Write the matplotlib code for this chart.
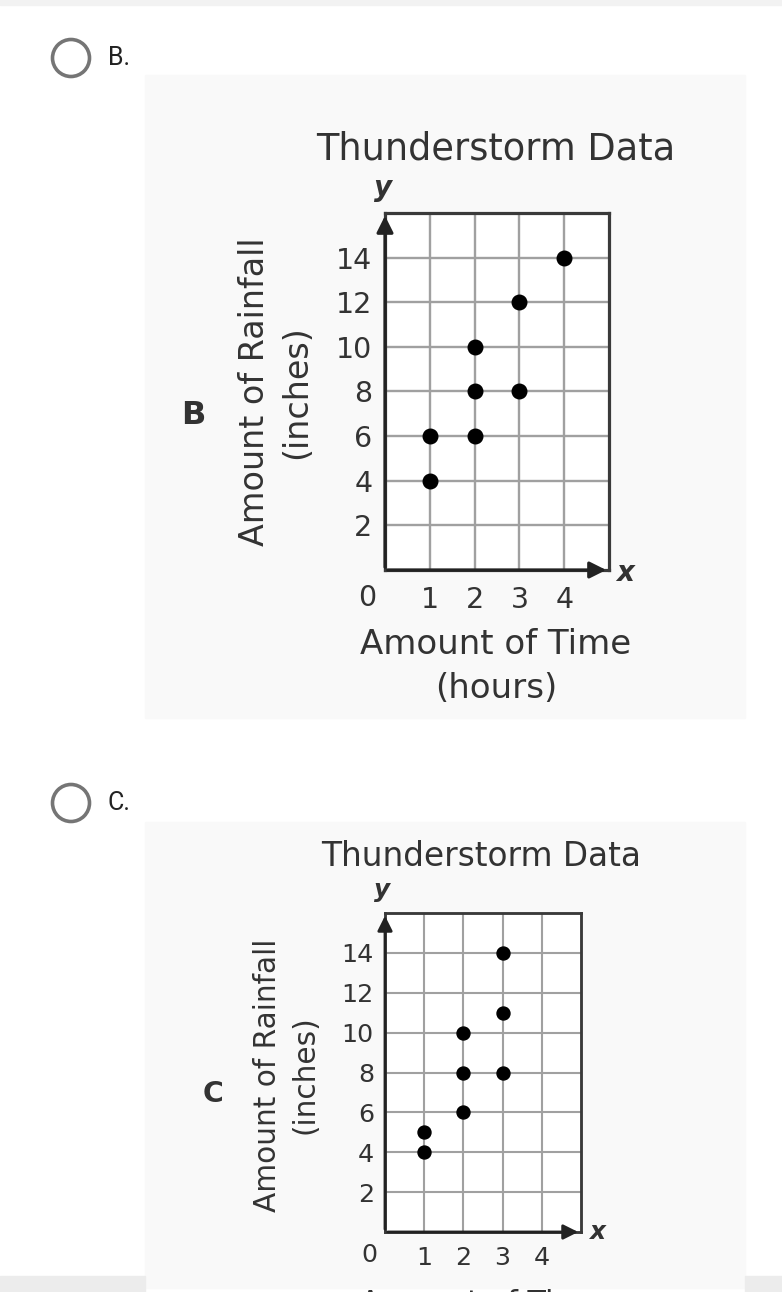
import matplotlib
matplotlib.use("Agg")
import matplotlib.pyplot as plt
from matplotlib.patches import Rectangle, Ellipse

W, H = 782, 1292

# option B data
b_hours = [1, 1, 2, 2, 2, 3, 3, 4]
b_rain = [4, 6, 6, 8, 10, 8, 12, 14]
# option C data
c_hours = [1, 1, 2, 2, 2, 3, 3, 3]
c_rain = [4, 5, 6, 8, 10, 8, 11, 14]

x_ticks = [1, 2, 3, 4]
y_ticks = [2, 4, 6, 8, 10, 12, 14]
title = "Thunderstorm Data"
ylabel = ["Amount of Rainfall", "(inches)"]
xlabel = ["Amount of Time", "(hours)"]
TXT = "#333333"


def fx(x):
    return x / W


def fy(y):
    return 1 - y / H


def add_axes_px(fig, left, top, right, bottom):
    return fig.add_axes([fx(left), fy(bottom), (right - left) / W, (bottom - top) / H])


def draw_chart(fig, box, hours, rain, letter, s, pos):
    left, top, right, bottom = box
    ax = add_axes_px(fig, left, top, right, bottom)
    ax.set_zorder(2)
    ax.set_facecolor("white")
    ax.set_xlim(0, 5)
    ax.set_ylim(0, 16)
    for v in x_ticks:
        ax.axvline(v, color="#a0a0a0", lw=1.7 * s, zorder=1)
    for v in y_ticks:
        ax.axhline(v, color="#a0a0a0", lw=1.7 * s, zorder=1)
    for sp in ax.spines.values():
        sp.set_color("#3a3a3a")
        sp.set_linewidth(2.3 * s)
    ax.set_xticks(x_ticks)
    ax.set_yticks(y_ticks)
    ax.tick_params(length=0, labelsize=20.5 * s, labelcolor=TXT)
    ax.tick_params(axis="x", pad=11.5 * s)
    ax.tick_params(axis="y", pad=9 * s)
    # the origin label sits left of the axis, level with the x tick labels
    ax.annotate("0", xy=(-0.4, 0), xycoords=("data", "axes fraction"),
                xytext=(0, -pos["zero_off"]), textcoords="offset points",
                ha="center", va="center", fontsize=20.5 * s, color=TXT,
                annotation_clip=False)
    # axis arrows
    ax.annotate("", xy=(0, 16), xytext=(0, 0),
                arrowprops=dict(arrowstyle="-|>", color="#222222", lw=2.3 * s,
                                mutation_scale=25 * s), annotation_clip=False)
    ax.annotate("", xy=(5, 0), xytext=(0, 0),
                arrowprops=dict(arrowstyle="-|>", color="#222222", lw=2.3 * s,
                                mutation_scale=25 * s), annotation_clip=False)
    ax.scatter(hours, rain, s=110 * s * s, color="black", zorder=5, clip_on=False)

    # labels placed in pixel space
    fig.text(fx(pos["title"][0]), fy(pos["title"][1]), title, ha="center", va="center",
             fontsize=26.5 * s, color=TXT)
    fig.text(fx(pos["y"][0]), fy(pos["y"][1]), "y", ha="center", va="center",
             fontsize=20 * s, color="#333333", fontweight="bold", style="italic")
    fig.text(fx(pos["x"][0]), fy(pos["x"][1]), "x", ha="center", va="center",
             fontsize=20 * s, color="#333333", fontweight="bold", style="italic")
    yl = pos["ylabel"]
    fig.text(fx(yl[0]), fy(yl[2]), ylabel[0], rotation=90, ha="center", va="center",
             fontsize=24 * s, color=TXT)
    fig.text(fx(yl[1]), fy(yl[2]), ylabel[1], rotation=90, ha="center", va="center",
             fontsize=24 * s, color=TXT)
    fig.text(fx(pos["letter"][0]), fy(pos["letter"][1]), letter, ha="center", va="center",
             fontsize=23 * s, color=TXT, fontweight="bold")
    xl = pos["xlabel"]
    for line, ypx in zip(xlabel, xl[1:]):
        fig.text(fx(xl[0]), fy(ypx), line, ha="center", va="center",
                 fontsize=24.5 * s, color=TXT)
    return ax


fig = plt.figure(figsize=(W / 100, H / 100), dpi=100)
fig.patch.set_facecolor("white")

# page decorations
def add_rect(x0, y0, x1, y1, color, z=-1):
    fig.patches.append(Rectangle((fx(x0), fy(y1)), (x1 - x0) / W, (y1 - y0) / H,
                                 transform=fig.transFigure, color=color, zorder=z))


add_rect(0, 0, W, 5, "#f2f2f2")
add_rect(145, 75, 745, 718, "#f9f9f9")
add_rect(145, 822, 745, 1288, "#f9f9f9")
add_rect(0, 1276, 145, 1292, "#ececec")
add_rect(745, 1276, W, 1292, "#ececec")

for cy, lab in [(58, "B."), (803, "C.")]:
    fig.patches.append(Ellipse((fx(71), fy(cy)), 37 / W, 37 / H, transform=fig.transFigure,
                               fill=False, edgecolor="#757575", lw=2.6, zorder=1))
    fig.text(fx(108), fy(cy), lab, ha="left", va="center", fontsize=18,
             color="#222222", family="Roboto")

draw_chart(fig, (385, 213, 609, 570), b_hours, b_rain, "B", 1.0,
           {"title": (496, 149), "y": (383, 188), "x": (625, 573),
            "ylabel": (255, 297, 392), "letter": (193, 416),
            "xlabel": (496, 645, 688), "zero_off": 20.2})

# the screenshot cuts option C off just below its x tick labels
draw_chart(fig, (385, 913, 581, 1232), c_hours, c_rain, "C", 0.89,
           {"title": (481, 856), "y": (382, 890), "x": (597, 1232),
            "ylabel": (268, 305, 1075), "letter": (213, 1094),
            "xlabel": (481, 1303), "zero_off": 16.6})

fig.savefig("out.png", dpi=100)
